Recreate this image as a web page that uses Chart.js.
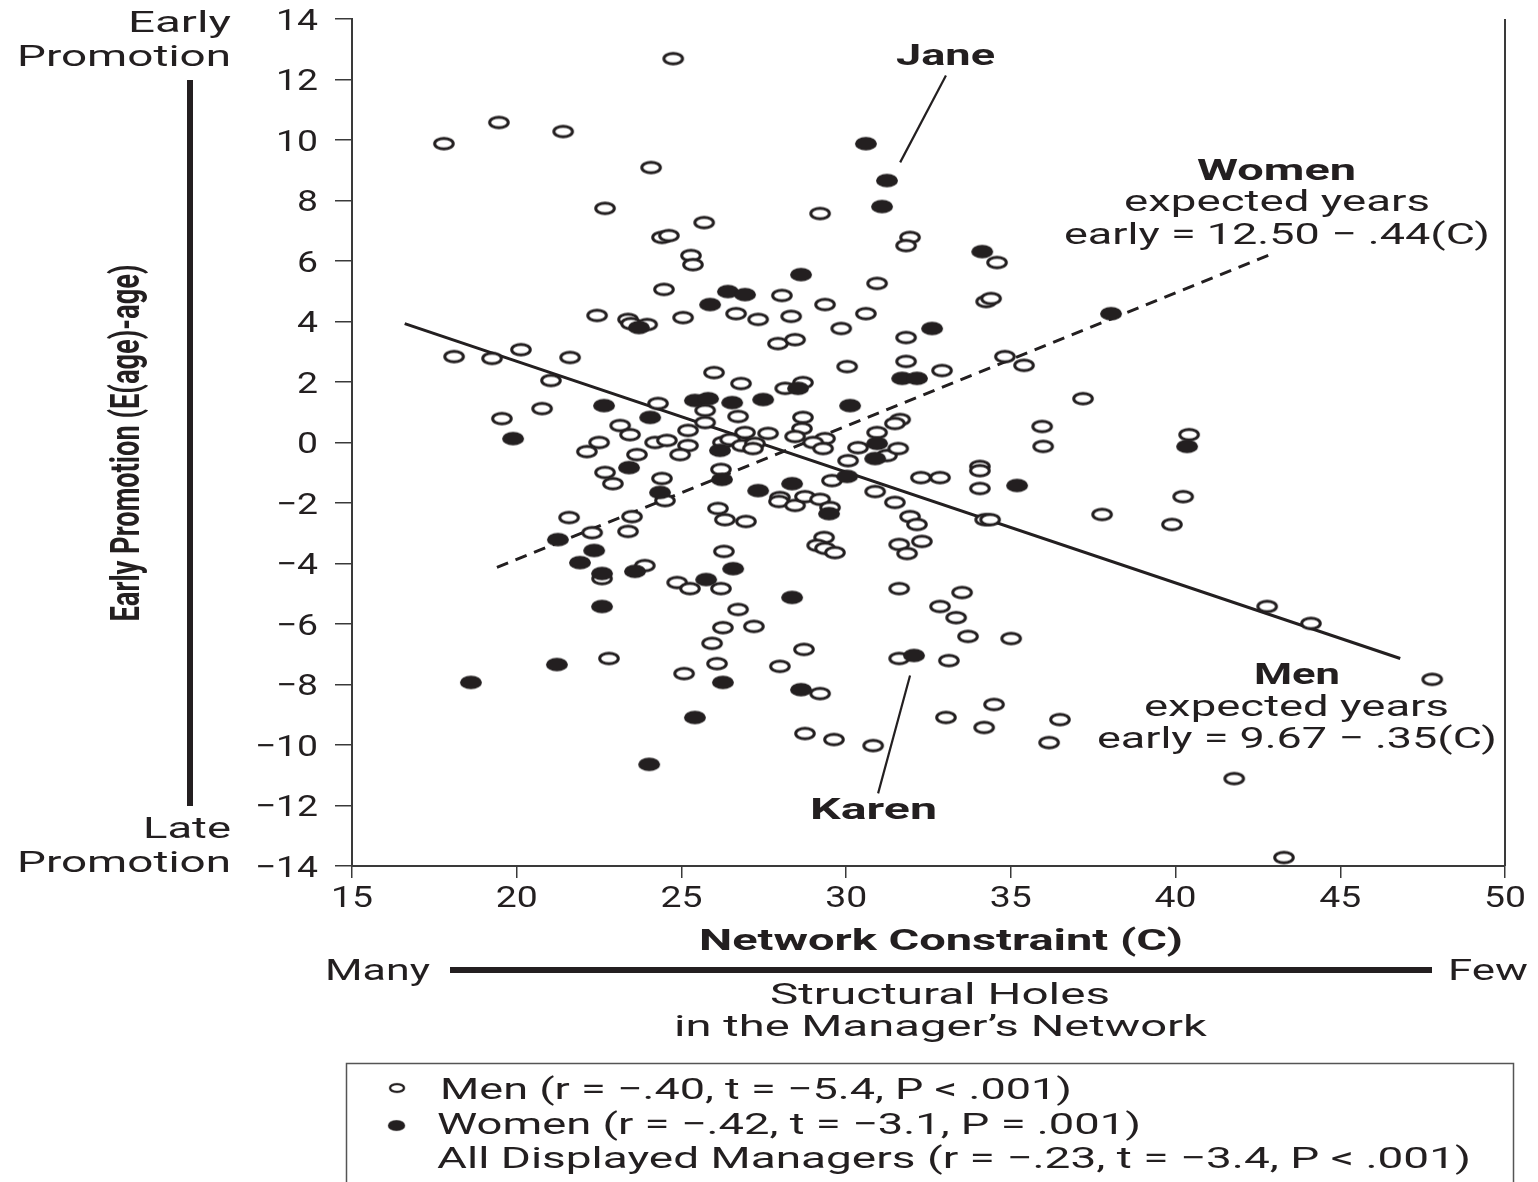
<!DOCTYPE html>
<html><head><meta charset="utf-8">
<script src="https://cdn.jsdelivr.net/npm/chart.js@4.4.1/dist/chart.umd.min.js"></script>
<style>html,body{margin:0;padding:0;background:#fff;}#wrap{width:1538px;height:1182px;position:relative;overflow:hidden}</style>
</head><body><div id="wrap"><canvas id="c" width="1538" height="1182"></canvas></div>
<script>
// ---------------- DATA ----------------
const xTicks = [15, 20, 25, 30, 35, 40, 45, 50];
const yTicks = [14, 12, 10, 8, 6, 4, 2, 0, -2, -4, -6, -8, -10, -12, -14];

const menC = [24.75,17.79,19.46,21.41,24.08,22.68,25.69,29.21,24.41,24.62,25.29,25.35,31.94,31.82,34.58,30.94,24.47,28.05,29.36,34.25,34.40,22.44,23.38,23.47,23.96,25.05,26.66,27.33,28.33,30.60,29.85,31.82,27.93,28.45,18.10,19.25,20.13,21.62,21.04,30.03,31.82,32.91,34.82,35.40,37.19,25.99,26.81,28.15,28.69,20.77,19.55,24.29,25.72,26.72,28.69,31.64,31.48,23.14,25.72,25.20,23.44,26.93,27.63,28.66,28.45,29.36,30.94,22.50,22.13,24.20,24.56,25.20,24.96,26.26,26.48,26.84,27.23,27.17,29.00,29.30,30.36,31.24,31.58,30.06,35.95,35.98,40.41,23.65,22.68,22.92,24.41,24.50,26.20,29.57,30.88,31.48,32.27,32.85,34.06,34.06,34.06,40.23,27.99,27.96,28.45,28.75,29.21,29.51,26.11,26.32,26.96,21.59,23.50,22.29,23.38,31.94,32.15,34.22,34.37,37.77,39.89,29.33,29.12,29.36,29.66,31.61,31.85,32.30,26.29,23.89,22.59,24.87,25.26,26.20,31.61,33.52,42.78,44.11,32.85,33.34,26.72,26.26,27.20,33.70,35.01,25.93,22.80,26.08,28.72,31.61,33.12,27.99,25.08,47.79,29.21,34.49,33.03,34.19,36.49,28.75,29.63,30.82,36.16,41.78,43.29];
const menY = [12.69,9.88,10.58,10.28,9.09,7.74,7.27,7.57,6.78,6.84,6.18,5.88,6.78,6.51,5.95,5.26,5.06,4.86,4.56,4.66,4.76,4.20,4.07,3.93,3.90,4.13,4.26,4.07,4.17,4.26,3.77,3.47,3.27,3.40,2.84,2.78,3.07,2.81,2.05,2.51,2.68,2.38,2.84,2.55,1.45,2.31,1.95,1.79,1.98,1.12,0.79,1.29,1.06,0.86,0.83,0.76,0.63,0.56,0.66,0.40,0.26,0.33,0.30,0.46,0.20,0.13,0.33,0.00,-0.30,0.00,0.07,-0.10,-0.40,0.00,0.10,-0.10,-0.03,-0.20,0.00,-0.20,-0.17,-0.43,-0.20,-0.60,0.53,-0.13,0.26,-0.40,-0.99,-1.36,-1.19,-1.92,-0.89,-1.26,-1.62,-1.98,-1.16,-1.16,-0.79,-0.93,-1.52,-1.79,-1.82,-1.95,-2.08,-1.79,-1.88,-2.15,-2.18,-2.55,-2.61,-2.48,-2.45,-2.98,-2.94,-2.45,-2.71,-2.55,-2.55,-2.38,-2.71,-3.14,-3.40,-3.50,-3.64,-3.37,-3.67,-3.27,-3.60,-4.07,-4.50,-4.63,-4.83,-4.83,-4.83,-4.96,-5.42,-5.98,-5.42,-5.79,-5.52,-6.12,-6.08,-6.41,-6.48,-6.64,-7.14,-7.31,-6.84,-7.14,-7.21,-7.40,-7.64,-7.83,-8.30,-8.66,-9.09,-9.42,-9.16,-9.62,-9.82,-10.02,-9.92,-11.11,-13.72];

const womenC = [30.60,31.24,31.09,34.13,28.63,26.41,26.93,25.87,23.71,32.61,38.04,31.70,32.15,22.65,25.41,25.81,26.54,27.48,28.54,30.12,24.05,19.89,26.17,30.94,30.88,40.35,23.41,26.23,28.36,30.03,27.33,24.35,35.19,29.48,21.25,22.35,21.92,22.59,23.59,26.57,25.75,22.59,28.36,21.22,18.61,26.26,32.06,28.63,25.41,24.02];
const womenY = [9.88,8.66,7.80,6.31,5.55,4.99,4.89,4.56,3.80,3.77,4.26,2.12,2.12,1.22,1.39,1.45,1.32,1.42,1.79,1.22,0.83,0.13,-0.26,-0.03,-0.53,-0.13,-0.83,-1.22,-1.36,-1.12,-1.59,-1.65,-1.42,-2.35,-3.21,-3.57,-3.97,-4.33,-4.26,-4.17,-4.53,-5.42,-5.12,-7.34,-7.93,-7.93,-7.04,-8.17,-9.09,-10.64];

// fitted lines as drawn (endpoints)
const menLineC = [16.6, 46.82];
const menLineY = [3.93, -7.14];
const womenLineC = [19.4, 42.87];
const womenLineY = [-4.13, 6.21];
// leader lines for the named managers
const janeLeaderC = [33.03, 31.64];
const janeLeaderY = [12.13, 9.26];
const karenLeaderC = [31.94, 30.97];
const karenLeaderY = [-7.70, -11.60];

// ---------------- RENDER ----------------
const INK = '#231f20';
function makeMarker(filled, w, h) {
  const c = document.createElement('canvas');
  c.width = w; c.height = h;
  const g = c.getContext('2d');
  g.beginPath();
  if (filled) {
    g.ellipse(w/2, h/2, w/2 - 1.0, h/2 - 1.2, 0, 0, Math.PI * 2);
    g.fillStyle = INK; g.fill();
  } else {
    g.ellipse(w/2, h/2, w/2 - 2.7, h/2 - 2.7, 0, 0, Math.PI * 2);
    g.fillStyle = '#fff'; g.fill();
    g.lineWidth = 3; g.strokeStyle = INK; g.stroke();
  }
  return c;
}
const openMk = makeMarker(false, 24, 16);
const fillMk = makeMarker(true, 24, 16);

const pts = (xs, ys) => xs.map((x, i) => ({ x, y: ys[i] }));

function fitText(ctx, str, x0, x1, base, font) {
  ctx.save();
  ctx.font = font; ctx.fillStyle = INK;
  ctx.textAlign = 'left'; ctx.textBaseline = 'alphabetic';
  const w = ctx.measureText(str).width;
  ctx.translate(x0, base);
  ctx.scale((x1 - x0) / w, 1);
  ctx.fillText(str, 0, 0);
  ctx.restore();
}
function scaledText(ctx, str, x, base, font, sx, align) {
  ctx.save();
  ctx.font = font; ctx.fillStyle = INK;
  ctx.textAlign = align; ctx.textBaseline = 'alphabetic';
  ctx.translate(x, base);
  ctx.scale(sx, 1);
  ctx.fillText(str, 0, 0);
  ctx.restore();
}

const decor = {
  id: 'decor',
  afterDraw(chart) {
    const ctx = chart.ctx;
    const xs = chart.scales.x, ys = chart.scales.y, ca = chart.chartArea;
    const R = '30px Roboto', B = 'bold 30px Roboto';

    // right frame line
    ctx.save();
    ctx.strokeStyle = '#3a3a3a'; ctx.lineWidth = 2;
    ctx.beginPath(); ctx.moveTo(ca.right, ca.top); ctx.lineTo(ca.right, ca.bottom); ctx.stroke();
    ctx.restore();

    // tick labels through the scales
    ctx.save(); ctx.font = R;
    const sx = 42 / ctx.measureText('15').width;
    ctx.restore();
    xTicks.forEach(v => scaledText(ctx, String(v), xs.getPixelForValue(v), 907, R, sx, 'center'));
    yTicks.forEach(v => {
      const lab = v < 0 ? '\u2212' + Math.abs(v) : String(v);
      scaledText(ctx, lab, 318, ys.getPixelForValue(v) + 10.5, R, sx, 'right');
    });

    // left side labels
    fitText(ctx, 'Early', 128, 231, 32, R);
    fitText(ctx, 'Promotion', 17, 231, 66, R);
    fitText(ctx, 'Late', 143, 231, 838, R);
    fitText(ctx, 'Promotion', 17, 231, 872, R);
    ctx.fillStyle = INK; ctx.fillRect(187, 80, 6, 726);

    // rotated y title
    ctx.save();
    ctx.font = 'bold 40px Roboto'; ctx.fillStyle = INK;
    ctx.textAlign = 'center'; ctx.textBaseline = 'middle';
    const tw = ctx.measureText('Early Promotion (E(age)-age)').width;
    ctx.translate(129, 443); ctx.rotate(-Math.PI / 2);
    ctx.scale(357 / tw, 1);
    ctx.fillText('Early Promotion (E(age)-age)', 0, 0);
    ctx.restore();

    // x title area
    fitText(ctx, 'Network Constraint (C)', 699, 1183, 950, B);
    fitText(ctx, 'Many', 325, 430, 980, R);
    ctx.fillStyle = INK; ctx.fillRect(450, 967, 982, 6);
    fitText(ctx, 'Few', 1448, 1528, 980, R);
    fitText(ctx, 'Structural Holes', 770, 1110, 1004, R);
    fitText(ctx, 'in the Manager\u2019s Network', 674, 1207, 1036, R);

    // annotations
    fitText(ctx, 'Jane', 896, 995, 65, B);
    fitText(ctx, 'Women', 1197, 1356, 180, B);
    fitText(ctx, 'expected years', 1124, 1430, 211, R);
    fitText(ctx, 'early = 12.50 \u2212 .44(C)', 1064, 1490, 244, R);
    fitText(ctx, 'Men', 1254, 1340, 684, B);
    fitText(ctx, 'expected years', 1144, 1449, 716, R);
    fitText(ctx, 'early = 9.67 \u2212 .35(C)', 1097, 1497, 748, R);
    fitText(ctx, 'Karen', 810, 937, 819, B);

    // legend box
    ctx.save();
    ctx.strokeStyle = '#555'; ctx.lineWidth = 1.5;
    ctx.strokeRect(346.5, 1063.5, 1167, 140);
    ctx.drawImage(openMk, 388, 1082, 18, 12);
    ctx.drawImage(fillMk, 387, 1119, 19, 13);
    ctx.restore();
    fitText(ctx, 'Men (r = \u2212.40, t = \u22125.4, P < .001)', 440, 1072, 1099, R);
    fitText(ctx, 'Women (r = \u2212.42, t = \u22123.1, P = .001)', 437, 1141, 1134, R);
    fitText(ctx, 'All Displayed Managers (r = \u2212.23, t = \u22123.4, P < .001)', 437, 1471, 1168, R);
  }
};

const lineDs = (xs, ys, extra) => Object.assign({
  type: 'line', data: pts(xs, ys), borderColor: INK, borderWidth: 3,
  pointRadius: 0, fill: false, tension: 0, order: 5
}, extra);

new Chart(document.getElementById('c'), {
  type: 'scatter',
  data: {
    datasets: [
      { label: 'Women', data: pts(womenC, womenY), pointStyle: fillMk, pointRadius: 10, order: 0 },
      { label: 'Men', data: pts(menC, menY), pointStyle: openMk, pointRadius: 10, order: 1 },
      lineDs(menLineC, menLineY, { label: 'Men fit' }),
      lineDs(womenLineC, womenLineY, { label: 'Women fit', borderDash: [12, 8] }),
      lineDs(janeLeaderC, janeLeaderY, { label: 'Jane', borderWidth: 2.2 }),
      lineDs(karenLeaderC, karenLeaderY, { label: 'Karen', borderWidth: 2.2 })
    ]
  },
  options: {
    responsive: false, animation: false, devicePixelRatio: 1, events: [],
    layout: { padding: { top: 19, right: 33, left: 0, bottom: 0 } },
    plugins: { legend: { display: false }, tooltip: { enabled: false } },
    scales: {
      x: {
        type: 'linear', min: 15, max: 50,
        afterBuildTicks: s => { s.ticks = xTicks.map(v => ({ value: v })); },
        afterFit: s => { s.height = 316; },
        ticks: { display: false },
        grid: { drawOnChartArea: false, drawTicks: true, tickLength: 12, color: '#3a3a3a', lineWidth: 1.5 },
        border: { display: true, color: '#3a3a3a', width: 2 }
      },
      y: {
        type: 'linear', min: -14, max: 14,
        afterBuildTicks: s => { s.ticks = yTicks.map(v => ({ value: v })); },
        afterFit: s => { s.width = 352; },
        ticks: { display: false },
        grid: { drawOnChartArea: false, drawTicks: true, tickLength: 17, color: '#3a3a3a', lineWidth: 1.5 },
        border: { display: true, color: '#3a3a3a', width: 2 }
      }
    }
  },
  plugins: [decor]
});
</script></body></html>
